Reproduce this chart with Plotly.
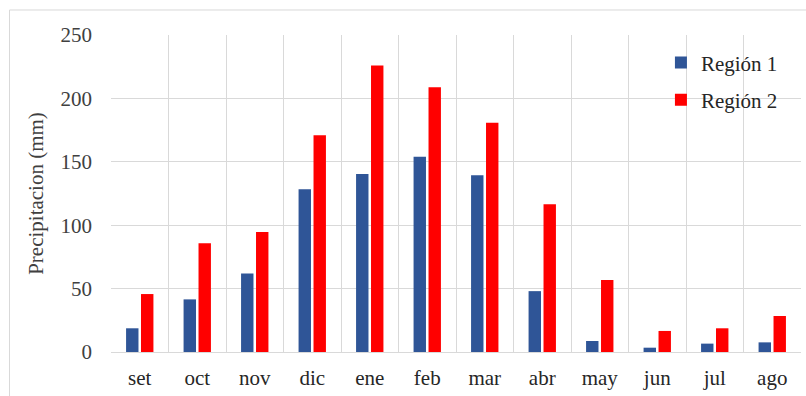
import plotly.graph_objects as go

months = ["set", "oct", "nov", "dic", "ene", "feb", "mar", "abr", "may", "jun", "jul", "ago"]
region1 = [18.7, 41.5, 62, 128.3, 140.4, 154, 139.3, 48, 8.7, 3.4, 6.6, 7.6]
region2 = [45.7, 85.7, 94.6, 171, 226, 208.7, 180.8, 116.5, 56.8, 16.6, 18.7, 28.4]
y_ticks = [0, 50, 100, 150, 200, 250]

FONT = "Liberation Serif"
BLUE = "#2F5597"
RED = "#FF0000"
GRID = "#D9D9D9"

fig = go.Figure()
fig.add_trace(go.Bar(x=months, y=region1, name="Región 1", showlegend=True,
                     marker=dict(color=BLUE, line=dict(width=0)), legend="legend"))
fig.add_trace(go.Bar(x=months, y=region2, name="Región 2", showlegend=True,
                     marker=dict(color=RED, line=dict(width=0)), legend="legend2"))

legend_common = dict(
    xanchor="left", yanchor="middle", bgcolor="rgba(0,0,0,0)",
    borderwidth=0, font=dict(family=FONT, size=21, color="#262626"),
)

fig.update_layout(
    width=806, height=396,
    margin=dict(l=111, r=5, t=35, b=44),
    paper_bgcolor="white", plot_bgcolor="white",
    showlegend=True,
    barmode="group", bargap=0.48, bargroupgap=0.17,
    font=dict(family=FONT, size=21, color="#404040"),
    legend=dict(x=0.797, y=0.912, **legend_common),
    legend2=dict(x=0.797, y=0.795, **legend_common),
    xaxis=dict(
        type="category", tickson="boundaries", showgrid=True, gridcolor=GRID,
        gridwidth=1, ticks="", showline=True, linecolor=GRID, linewidth=1,
        tickfont=dict(family=FONT, size=21, color="#262626"),
        ticklabelstandoff=7,
        range=[-0.5, len(months) - 0.5],
    ),
    yaxis=dict(
        range=[0, 250], tickvals=y_ticks, showgrid=True, gridcolor=GRID,
        gridwidth=1, zeroline=False, ticks="", showline=False,
        tickfont=dict(family=FONT, size=21, color="#404040"),
        ticklabelstandoff=18,
        title=dict(text="Precipitacion (mm)", standoff=11,
                   font=dict(family=FONT, size=21, color="#404040")),
    ),
    shapes=[dict(type="rect", xref="paper", yref="paper",
                 x0=-0.1471, x1=1.03, y0=-0.2, y1=1.0789,
                 line=dict(color="#D9D9D9", width=1), layer="below")],
)

fig.write_html("out.html")
